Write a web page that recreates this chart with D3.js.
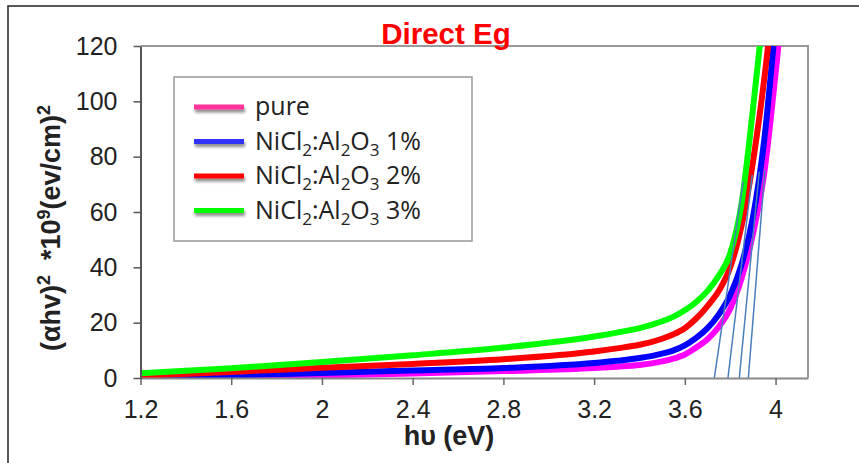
<!DOCTYPE html>
<html>
<head>
<meta charset="utf-8">
<script src="https://cdn.jsdelivr.net/npm/d3@7/dist/d3.min.js"></script>
<style>
  html, body { margin: 0; padding: 0; background: #fff; }
  svg { display: block; }
</style>
</head>
<body>
<svg id="chart" width="859" height="463"></svg>
<script>
// Photon energy (eV) sampled for every film
const hv = [1.2, 1.6, 2.0, 2.4, 2.8, 3.2, 3.3, 3.4, 3.5, 3.55, 3.6, 3.65, 3.7, 3.75, 3.8, 3.85, 3.9, 3.95, 4.0, 4.05];

// (αhν)² ×10⁹ (eV/cm)² for each sample
const pure = [0.1, 0.4, 0.9, 1.6, 2.5, 3.6, 4.1, 4.7, 6.0, 7.0, 8.5, 11.0, 14.0, 18.5, 25.0, 36.0, 52.0, 74.0, 110.0, 150.0];
const ni1  = [0.3, 1.0, 1.8, 2.7, 3.6, 5.4, 6.2, 7.2, 8.8, 10.0, 11.8, 14.5, 18.0, 23.0, 30.0, 41.0, 58.0, 86.0, 128.0, 170.0];
const ni2  = [0.8, 2.2, 3.7, 5.1, 6.8, 9.6, 10.7, 12.0, 14.2, 15.8, 18.0, 21.5, 26.0, 31.5, 40.0, 55.0, 78.0, 108.0, 145.0, 185.0];
const ni3  = [1.7, 3.5, 5.8, 8.2, 11.0, 15.0, 16.4, 18.0, 20.5, 22.2, 24.5, 27.5, 31.5, 37.0, 45.0, 63.0, 97.0, 135.0, 175.0, 215.0];

const seriesNames  = ["pure", "NiCl2:Al2O3 1%", "NiCl2:Al2O3 2%", "NiCl2:Al2O3 3%"];
const seriesValues = [pure, ni1, ni2, ni3];
const seriesColors = ["#ff00ff", "#0000ff", "#ff0000", "#00ff00"];
const legendColors = ["#ff3399", "#3333ff", "#ff0000", "#00ff00"];

// Linear fits extrapolated to the energy axis (green, red, blue, pink)
const fitEg   = [3.73, 3.79, 3.84, 3.88];
const fitTopX = [3.857, 3.897, 3.928, 3.953];
const fitTopY = [71.0, 73.4, 74.6, 75.2];

const xTicks      = [1.2, 1.6, 2.0, 2.4, 2.8, 3.2, 3.6, 4.0];
const xTickLabels = ["1.2", "1.6", "2", "2.4", "2.8", "3.2", "3.6", "4"];
const yTicks      = [0, 20, 40, 60, 80, 100, 120];

const svg = d3.select("#chart");
const plot = { left: 140.5, right: 808, top: 46, bottom: 378 };

const x = d3.scaleLinear().domain([1.2, 4.143]).range([plot.left, plot.right]);
const y = d3.scaleLinear().domain([0, 120]).range([plot.bottom, plot.top]);

// outer frame
svg.append("rect")
  .attr("x", 8).attr("y", 6).attr("width", 880).attr("height", 480)
  .attr("fill", "#fff").attr("stroke", "#222").attr("stroke-width", 1.5);

const defs = svg.append("defs");
defs.append("clipPath").attr("id", "plotClip")
  .append("rect")
  .attr("x", plot.left).attr("y", plot.top)
  .attr("width", plot.right - plot.left).attr("height", plot.bottom - plot.top);

const shadow = defs.append("filter").attr("id", "shadow")
  .attr("filterUnits", "userSpaceOnUse")
  .attr("x", 180).attr("y", 80).attr("width", 90).attr("height", 160);
shadow.append("feGaussianBlur").attr("in", "SourceAlpha").attr("stdDeviation", 1.5).attr("result", "b");
shadow.append("feOffset").attr("in", "b").attr("dx", 1).attr("dy", 3).attr("result", "o");
shadow.append("feComponentTransfer").attr("in", "o").attr("result", "s")
  .append("feFuncA").attr("type", "linear").attr("slope", 0.45);
const merge = shadow.append("feMerge");
merge.append("feMergeNode").attr("in", "s");
merge.append("feMergeNode").attr("in", "SourceGraphic");

// plot area border (top and right)
svg.append("path")
  .attr("d", `M${plot.left},${plot.top}H${plot.right}V${plot.bottom}`)
  .attr("fill", "none").attr("stroke", "#999").attr("stroke-width", 2);

// curves
const line = d3.line()
  .x((d, i) => x(hv[i]))
  .y(d => y(d))
  .curve(d3.curveMonotoneX);

const curves = svg.append("g").attr("clip-path", "url(#plotClip)");
seriesValues.forEach((vals, k) => {
  curves.append("path")
    .datum(vals)
    .attr("d", line)
    .attr("fill", "none")
    .attr("stroke", seriesColors[k])
    .attr("stroke-width", 6)
    .attr("stroke-linejoin", "round");
});

// tangent fits
fitEg.forEach((eg, i) => {
  curves.append("line")
    .attr("x1", x(eg)).attr("y1", y(0))
    .attr("x2", x(fitTopX[i])).attr("y2", y(fitTopY[i]))
    .attr("stroke", "#4a7ebb").attr("stroke-width", 1.5);
});

// axes
const xAxis = d3.axisBottom(x)
  .tickValues(xTicks)
  .tickFormat((d, i) => xTickLabels[i])
  .tickSizeInner(7).tickSizeOuter(0).tickPadding(15);
const gx = svg.append("g").attr("transform", `translate(0,${plot.bottom})`).call(xAxis);
gx.select(".domain").attr("stroke", "#888").attr("stroke-width", 2);
gx.selectAll(".tick line").attr("stroke", "#666").attr("stroke-width", 1.5);
gx.selectAll(".tick text")
  .attr("font-family", "Liberation Sans, Arial, sans-serif")
  .attr("font-size", 25).attr("fill", "#222");

const yAxis = d3.axisLeft(y)
  .tickValues(yTicks)
  .tickSizeInner(7).tickSizeOuter(0).tickPadding(16);
const gy = svg.append("g").attr("transform", `translate(${plot.left},0)`).call(yAxis);
gy.select(".domain").attr("stroke", "#555").attr("stroke-width", 2);
gy.selectAll(".tick line").attr("stroke", "#555").attr("stroke-width", 1.5);
gy.selectAll(".tick text")
  .attr("font-family", "Liberation Sans, Arial, sans-serif")
  .attr("font-size", 25).attr("fill", "#222");

// title
svg.append("text")
  .attr("x", 446).attr("y", 43.5)
  .attr("text-anchor", "middle")
  .attr("font-family", "Liberation Sans, Arial, sans-serif")
  .attr("font-weight", "bold").attr("font-size", 29.5)
  .attr("fill", "#ff0000")
  .text("Direct Eg");

// x axis title
svg.append("text")
  .attr("x", 449).attr("y", 445)
  .attr("text-anchor", "middle")
  .attr("font-family", "Liberation Sans, Arial, sans-serif")
  .attr("font-weight", "bold").attr("font-size", 27)
  .attr("fill", "#222")
  .text("hυ (eV)");

// y axis title with superscripts
const yt = svg.append("text")
  .attr("transform", "translate(60,228) rotate(-90)")
  .attr("text-anchor", "middle")
  .attr("font-family", "Liberation Sans, Arial, sans-serif")
  .attr("font-weight", "bold").attr("font-size", 27)
  .attr("fill", "#222")
  .attr("xml:space", "preserve");
yt.append("tspan").text("(αhv)");
yt.append("tspan").attr("font-size", 18).attr("dy", -10).text("2");
yt.append("tspan").attr("dy", 10).text("  *10");
yt.append("tspan").attr("font-size", 18).attr("dy", -10).text("9");
yt.append("tspan").attr("dy", 10).text("(ev/cm)");
yt.append("tspan").attr("font-size", 18).attr("dy", -10).text("2");

// legend
const lg = svg.append("g");
lg.append("rect")
  .attr("x", 174).attr("y", 77).attr("width", 298).attr("height", 164)
  .attr("fill", "#fff").attr("stroke", "#999").attr("stroke-width", 1.5);

const legendRowY = [107, 141.5, 176, 210.5];
seriesNames.forEach((name, i) => {
  const ly = legendRowY[i];
  lg.append("rect")
    .attr("x", 194).attr("width", 50).attr("y", ly - 2.5).attr("height", 5)
    .attr("fill", legendColors[i])
    .attr("filter", "url(#shadow)");
  const t = lg.append("text")
    .attr("x", 255).attr("y", ly + 8)
    .attr("font-family", "Open Sans, sans-serif")
    .attr("font-size", 25).attr("fill", "#222");
  if (name === "pure") {
    t.text("pure");
  } else {
    const pct = name.split(" ")[1];
    t.append("tspan").text("NiCl");
    t.append("tspan").attr("font-size", 17).attr("dy", 6).text("2");
    t.append("tspan").attr("dy", -6).text(":Al");
    t.append("tspan").attr("font-size", 17).attr("dy", 6).text("2");
    t.append("tspan").attr("dy", -6).text("O");
    t.append("tspan").attr("font-size", 17).attr("dy", 6).text("3");
    t.append("tspan").attr("dy", -6).text(" " + pct);
  }
});
</script>
</body>
</html>
